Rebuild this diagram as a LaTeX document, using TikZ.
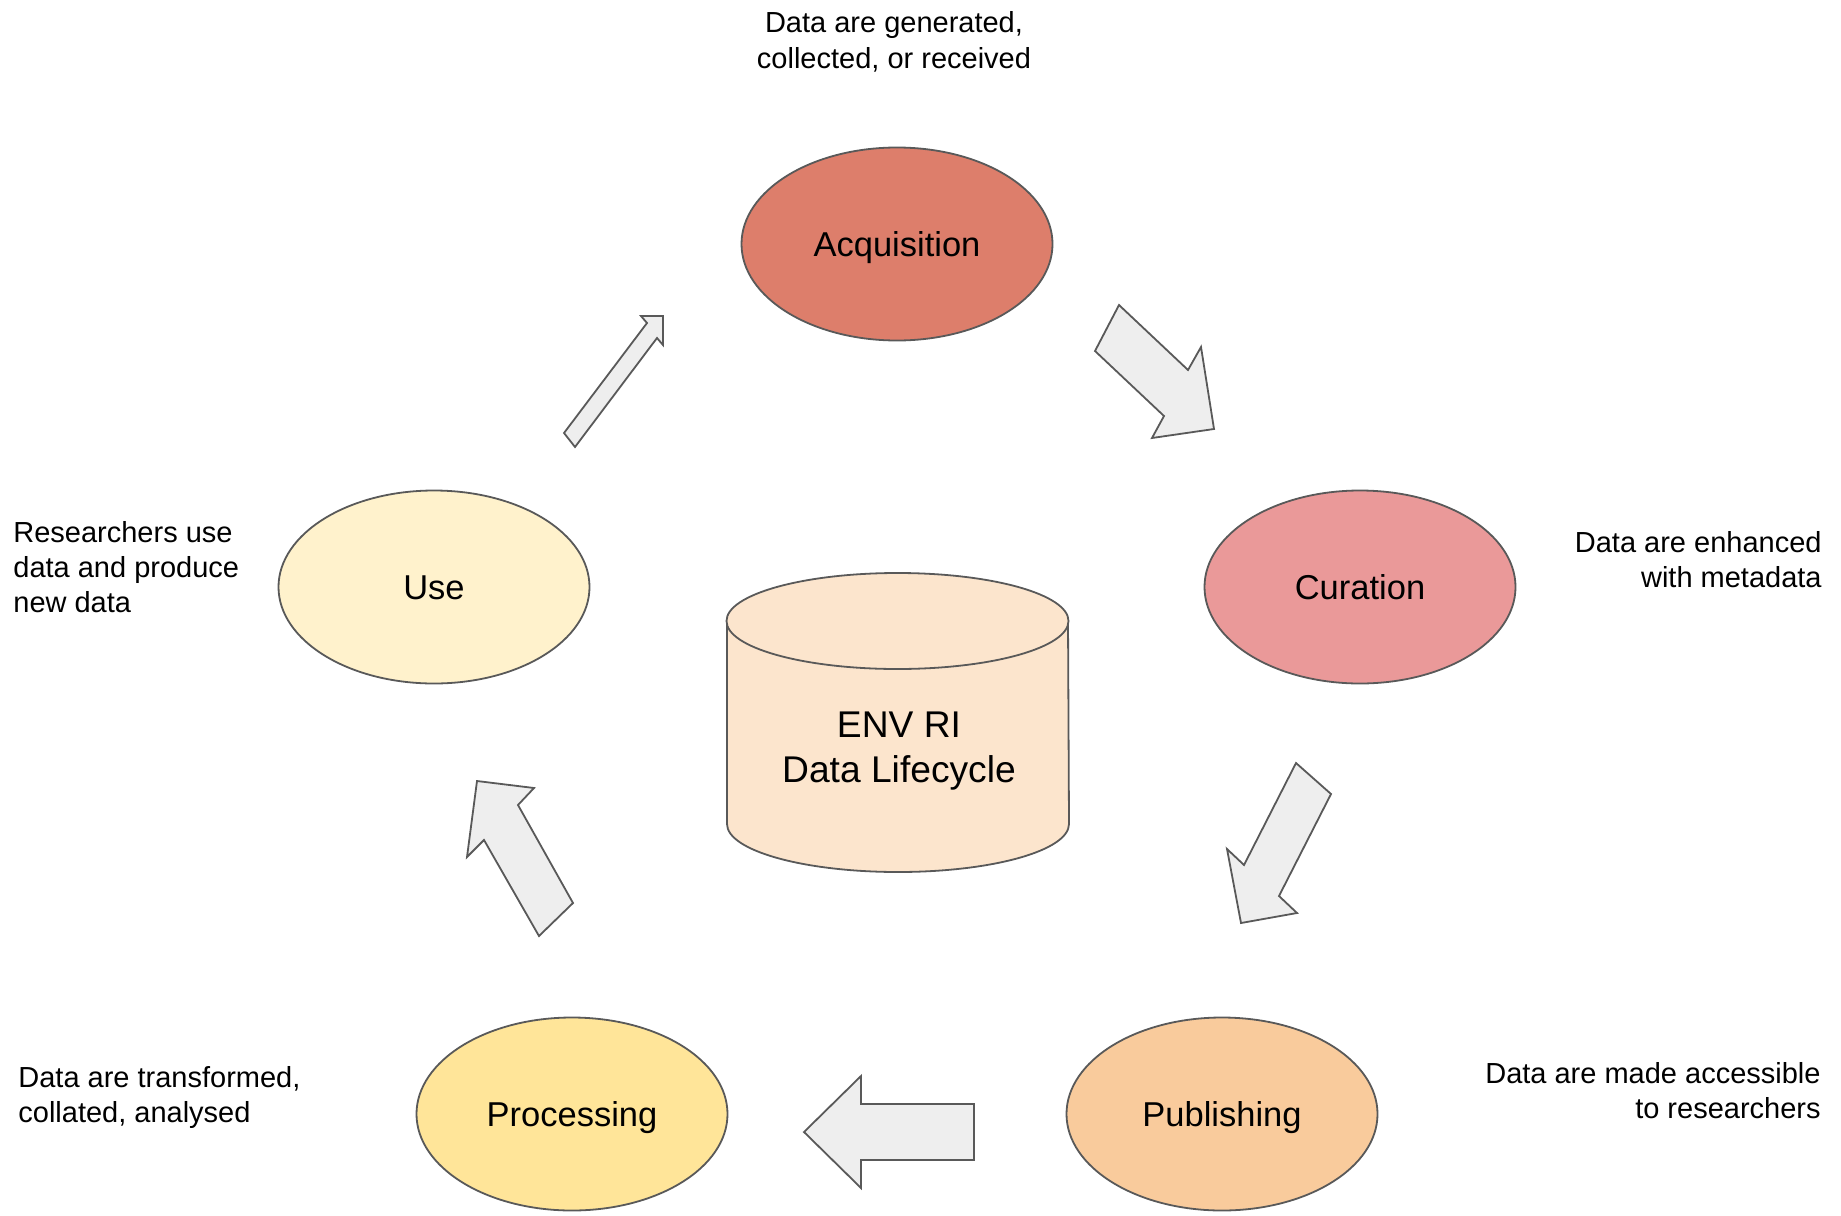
\documentclass[tikz,border=0pt]{standalone}
\usepackage{fontspec}
\setmainfont{Liberation Sans}
\usetikzlibrary{shapes.geometric}
\definecolor{acqred}{HTML}{DD7E6B}
\definecolor{curpink}{HTML}{EA9999}
\definecolor{useyellow}{HTML}{FFF2CC}
\definecolor{procyellow}{HTML}{FFE599}
\definecolor{puborange}{HTML}{F9CB9C}
\definecolor{dbpeach}{HTML}{FCE5CD}
\definecolor{edgegray}{HTML}{595959}
\definecolor{arrowfill}{HTML}{EEEEEE}
\begin{document}
\begin{tikzpicture}[x=0.5pt,y=-0.5pt,
	phase/.style={draw=edgegray, line width=0.9pt, ellipse, minimum width=155.5pt, minimum height=96.5pt, inner sep=0pt, text height=12.4pt, text depth=0pt, font=\fontsize{17.25pt}{20pt}\selectfont},
	note/.style={inner sep=0pt, font=\fontsize{14.5pt}{17.5pt}\selectfont},
	blockarrow/.style={draw=edgegray, fill=arrowfill, line width=0.9pt, line join=miter}]
			\useasboundingbox (0,0) rectangle (1841,1215);
			
			% lifecycle stages
			\node	(acq) at (897,244) [phase, fill=acqred] {Acquisition};
			\node	(cur) at (1360,587) [phase, fill=curpink] {Curation};
			\node	(pub) at (1222,1114) [phase, fill=puborange] {Publishing};
			\node	(proc) at (572,1114) [phase, fill=procyellow] {Processing};
			\node	(use) at (434,587) [phase, fill=useyellow] {Use};
			
			% data store in the middle
			\filldraw[draw=edgegray, fill=dbpeach, line width=0.9pt] (727,621) -- (727,824) arc[start angle=180, end angle=360, x radius=85.5pt, y radius=24pt] -- (1068,621);
			\filldraw[draw=edgegray, fill=dbpeach, line width=0.9pt] (897.5,621) ellipse[x radius=85.5pt, y radius=24pt];
			\node	(db) at (899,782) [anchor=base, align=center, inner sep=0pt, font=\fontsize{18.6pt}{22.5pt}\selectfont] {ENV RI\\Data Lifecycle};
			
			% block arrows
			\filldraw[blockarrow] (564,433) -- (647,323) -- (641,316) -- (663,316) -- (663,345) -- (657,338) -- (575,447) -- cycle;
			\filldraw[blockarrow] (1119,305) -- (1188,370) -- (1201,347) -- (1214,429) -- (1152,438) -- (1164,416) -- (1095,351) -- cycle;
			\filldraw[blockarrow] (1296,763) -- (1331,794) -- (1279,896) -- (1297,913) -- (1241,923) -- (1227,849) -- (1244,865) -- cycle;
			\filldraw[blockarrow] (804,1132) -- (861,1076) -- (861,1104) -- (974,1104) -- (974,1160) -- (861,1160) -- (861,1188) -- cycle;
			\filldraw[blockarrow] (477,781) -- (534,788) -- (518,805) -- (573,903) -- (539,936) -- (484,840) -- (467,857) -- cycle;
			
			% notes
			\node	(acqnote) at (894,68) [note, anchor=base, align=center] {Data are generated,\\collected, or received};
			\node	(curnote) at (1822,587) [note, anchor=base east, align=right] {Data are enhanced\\with metadata};
			\node	(pubnote) at (1821,1118) [note, anchor=base east, align=right] {Data are made accessible\\to researchers};
			\node	(procnote) at (18,1122) [note, anchor=base west, align=left] {Data are transformed,\\collated, analysed};
			\node	(usenote) at (13,612) [note, anchor=base west, align=left] {Researchers use\\data and produce\\new data};
		\end{tikzpicture}
\end{document}
